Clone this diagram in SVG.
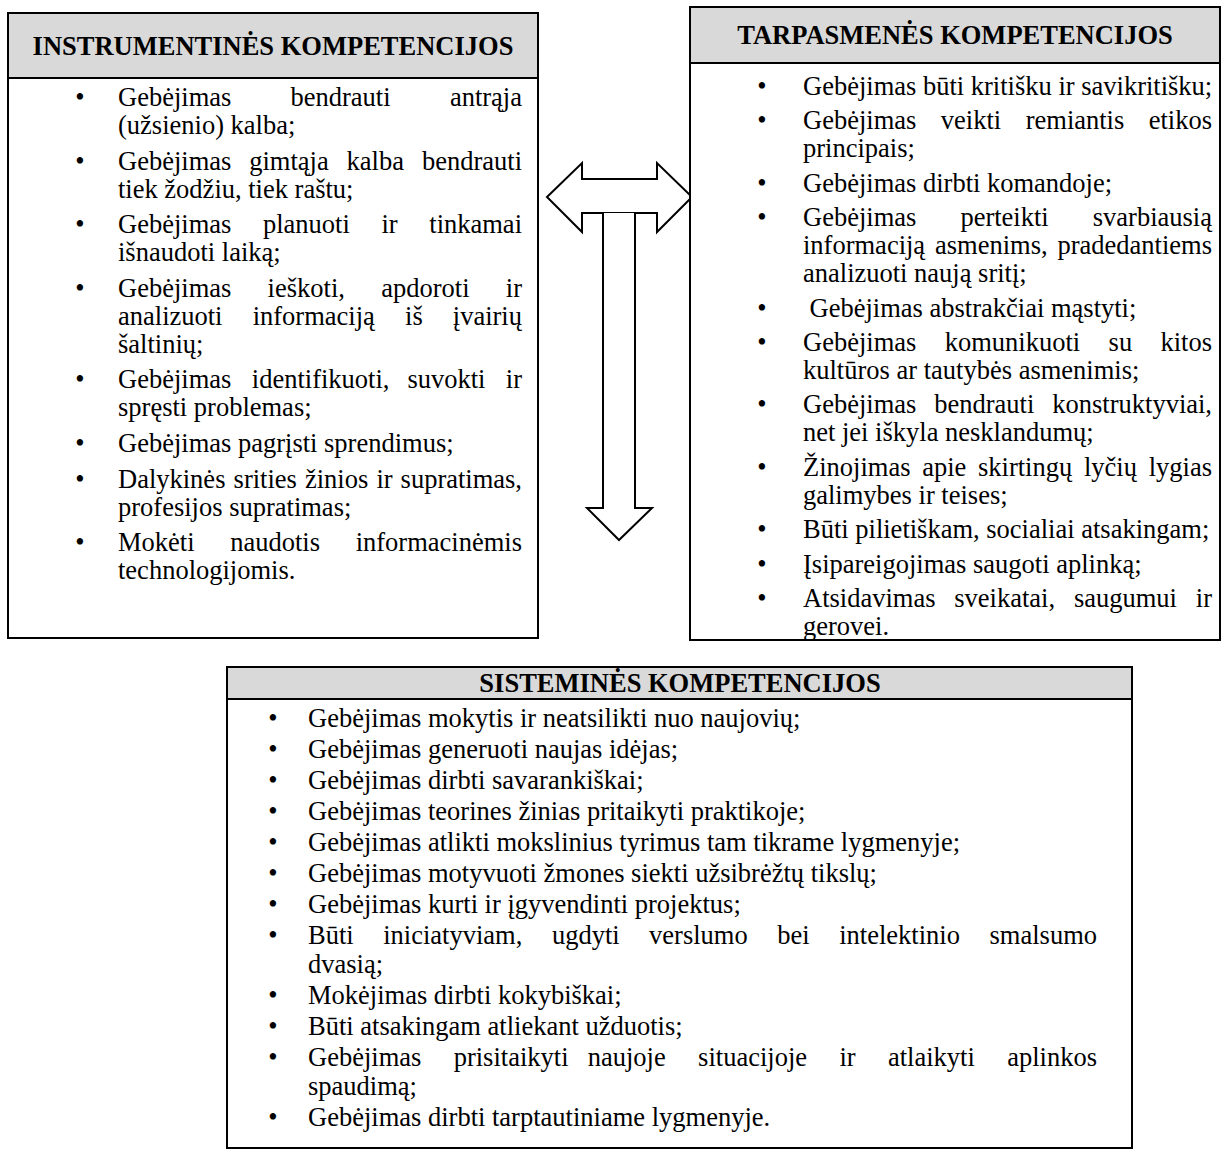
<svg xmlns="http://www.w3.org/2000/svg" width="1229" height="1160" viewBox="0 0 1229 1160">
<style>
.box{fill:#fff;stroke:#000;stroke-width:2}
.hdr{fill:#d9d9d9;stroke:#000;stroke-width:2}
.ht{font-family:"Liberation Serif","Times New Roman",serif;font-size:26.5px;font-weight:bold;text-anchor:middle;fill:#000}
.t{font-family:"Liberation Serif","Times New Roman",serif;font-size:26.5px;fill:#000}
.b{font-family:"Liberation Serif","Times New Roman",serif;font-size:26.5px;text-anchor:middle;fill:#000}
.e{text-anchor:end}
.arr{fill:#fff;stroke:#000;stroke-width:2;stroke-linejoin:miter}
</style>
<rect width="1229" height="1160" fill="#fff"/>

<g id="connectors">
<polygon class="arr" points="547,197 582,163 582,179 657,179 657,163 692,197 657,232 657,213 582,213 582,232"/>
<polyline class="arr" points="603,213 603,508 587,508 619,540 652,508 635,508 635,213"/>
</g>

<g id="instrumentines">
<rect class="box" x="8" y="13" width="530" height="625"/>
<rect class="hdr" x="8" y="13" width="530" height="65"/>
<text class="ht" x="273" y="55">INSTRUMENTINĖS KOMPETENCIJOS</text>
<g class="b">
<text x="80" y="106">•</text>
<text x="80" y="169.6">•</text>
<text x="80" y="233.2">•</text>
<text x="80" y="296.8">•</text>
<text x="80" y="388.4">•</text>
<text x="80" y="452">•</text>
<text x="80" y="487.6">•</text>
<text x="80" y="551.2">•</text>
</g>
<text class="t" y="106"><tspan x="118">Gebėjimas </tspan><tspan x="290.5">bendrauti </tspan><tspan class="e" x="522">antrąja</tspan></text>
<text class="t" x="118" y="134">(užsienio) kalba;</text>
<text class="t" y="169.6"><tspan x="118">Gebėjimas </tspan><tspan x="249.2">gimtąja </tspan><tspan x="346.6">kalba </tspan><tspan class="e" x="522">bendrauti</tspan></text>
<text class="t" x="118" y="197.6">tiek žodžiu, tiek raštu;</text>
<text class="t" y="233.2"><tspan x="118">Gebėjimas </tspan><tspan x="262.9">planuoti </tspan><tspan x="381.4">ir </tspan><tspan class="e" x="522">tinkamai</tspan></text>
<text class="t" x="118" y="261.2">išnaudoti laiką;</text>
<text class="t" y="296.8"><tspan x="118">Gebėjimas </tspan><tspan x="267.6">ieškoti, </tspan><tspan x="381.2">apdoroti </tspan><tspan class="e" x="522">ir</tspan></text>
<text class="t" y="324.8"><tspan x="118">analizuoti </tspan><tspan x="252.7">informaciją </tspan><tspan x="405.1">iš </tspan><tspan class="e" x="522">įvairių</tspan></text>
<text class="t" x="118" y="352.8">šaltinių;</text>
<text class="t" y="388.4"><tspan x="118">Gebėjimas </tspan><tspan x="251.8">identifikuoti, </tspan><tspan x="407.4">suvokti </tspan><tspan class="e" x="522">ir</tspan></text>
<text class="t" x="118" y="416.4">spręsti problemas;</text>
<text class="t" x="118" y="452">Gebėjimas pagrįsti sprendimus;</text>
<text class="t" y="487.6"><tspan x="118">Dalykinės </tspan><tspan x="233.6">srities </tspan><tspan x="305">žinios </tspan><tspan x="376.4">ir </tspan><tspan class="e" x="522">supratimas,</tspan></text>
<text class="t" x="118" y="515.6">profesijos supratimas;</text>
<text class="t" y="551.2"><tspan x="118">Mokėti </tspan><tspan x="230.2">naudotis </tspan><tspan class="e" x="522">informacinėmis</tspan></text>
<text class="t" x="118" y="579.2">technologijomis.</text>
</g>

<g id="tarpasmenes">
<rect class="box" x="690" y="7" width="530" height="633"/>
<rect class="hdr" x="690" y="7" width="530" height="56"/>
<text class="ht" x="955" y="44">TARPASMENĖS KOMPETENCIJOS</text>
<g class="b">
<text x="762" y="95">•</text>
<text x="762" y="129.4">•</text>
<text x="762" y="191.8">•</text>
<text x="762" y="226.2">•</text>
<text x="762" y="316.6">•</text>
<text x="762" y="351">•</text>
<text x="762" y="413.4">•</text>
<text x="762" y="475.8">•</text>
<text x="762" y="538.2">•</text>
<text x="762" y="572.6">•</text>
<text x="762" y="607">•</text>
</g>
<text class="t" x="803" y="95">Gebėjimas būti kritišku ir savikritišku;</text>
<text class="t" y="129.4"><tspan x="803">Gebėjimas </tspan><tspan x="940.8">veikti </tspan><tspan x="1025.7">remiantis </tspan><tspan class="e" x="1212">etikos</tspan></text>
<text class="t" x="803" y="157.4">principais;</text>
<text class="t" x="803" y="191.8">Gebėjimas dirbti komandoje;</text>
<text class="t" y="226.2"><tspan x="803">Gebėjimas </tspan><tspan x="960.4">perteikti </tspan><tspan class="e" x="1212">svarbiausią</tspan></text>
<text class="t" y="254.2"><tspan x="803">informaciją </tspan><tspan x="935">asmenims, </tspan><tspan class="e" x="1212">pradedantiems</tspan></text>
<text class="t" x="803" y="282.2">analizuoti naują sritį;</text>
<text class="t" x="809.6" y="316.6">Gebėjimas abstrakčiai mąstyti;</text>
<text class="t" y="351"><tspan x="803">Gebėjimas </tspan><tspan x="944.7">komunikuoti </tspan><tspan x="1108.6">su </tspan><tspan class="e" x="1212">kitos</tspan></text>
<text class="t" x="803" y="379">kultūros ar tautybės asmenimis;</text>
<text class="t" y="413.4"><tspan x="803">Gebėjimas </tspan><tspan x="934.2">bendrauti </tspan><tspan class="e" x="1212">konstruktyviai,</tspan></text>
<text class="t" x="803" y="441.4">net jei iškyla nesklandumų;</text>
<text class="t" y="475.8"><tspan x="803">Žinojimas </tspan><tspan x="922.2">apie </tspan><tspan x="978">skirtingų </tspan><tspan x="1083.9">lyčių </tspan><tspan class="e" x="1212">lygias</tspan></text>
<text class="t" x="803" y="503.8">galimybes ir teises;</text>
<text class="t" x="803" y="538.2">Būti pilietiškam, socialiai atsakingam;</text>
<text class="t" x="803" y="572.6">Įsipareigojimas saugoti aplinką;</text>
<text class="t" y="607"><tspan x="803">Atsidavimas </tspan><tspan x="954.3">sveikatai, </tspan><tspan x="1073.9">saugumui </tspan><tspan class="e" x="1212">ir</tspan></text>
<text class="t" x="803" y="635">gerovei.</text>
</g>

<g id="sistemines">
<rect class="box" x="227" y="667" width="905" height="481"/>
<rect class="hdr" x="227" y="667" width="905" height="32"/>
<text class="ht" x="680" y="692">SISTEMINĖS KOMPETENCIJOS</text>
<g class="b">
<text x="273" y="727">•</text>
<text x="273" y="758">•</text>
<text x="273" y="789">•</text>
<text x="273" y="820">•</text>
<text x="273" y="851">•</text>
<text x="273" y="882">•</text>
<text x="273" y="913">•</text>
<text x="273" y="944">•</text>
<text x="273" y="1004">•</text>
<text x="273" y="1035">•</text>
<text x="273" y="1066">•</text>
<text x="273" y="1126">•</text>
</g>
<text class="t" x="308" y="727">Gebėjimas mokytis ir neatsilikti nuo naujovių;</text>
<text class="t" x="308" y="758">Gebėjimas generuoti naujas idėjas;</text>
<text class="t" x="308" y="789">Gebėjimas dirbti savarankiškai;</text>
<text class="t" x="308" y="820">Gebėjimas teorines žinias pritaikyti praktikoje;</text>
<text class="t" x="308" y="851">Gebėjimas atlikti mokslinius tyrimus tam tikrame lygmenyje;</text>
<text class="t" x="308" y="882">Gebėjimas motyvuoti žmones siekti užsibrėžtų tikslų;</text>
<text class="t" x="308" y="913">Gebėjimas kurti ir įgyvendinti projektus;</text>
<text class="t" y="944"><tspan x="308">Būti </tspan><tspan x="383.2">iniciatyviam, </tspan><tspan x="551.9">ugdyti </tspan><tspan x="649.1">verslumo </tspan><tspan x="777.3">bei </tspan><tspan x="839.2">intelektinio </tspan><tspan class="e" x="1097">smalsumo</tspan></text>
<text class="t" x="308" y="973">dvasią;</text>
<text class="t" x="308" y="1004">Mokėjimas dirbti kokybiškai;</text>
<text class="t" x="308" y="1035">Būti atsakingam atliekant užduotis;</text>
<text class="t" y="1066"><tspan x="308">Gebėjimas </tspan><tspan x="453.7">prisitaikyti </tspan><tspan x="587.7">naujoje </tspan><tspan x="698.1">situacijoje </tspan><tspan x="839.4">ir </tspan><tspan x="888">atlaikyti </tspan><tspan class="e" x="1097">aplinkos</tspan></text>
<text class="t" x="308" y="1095">spaudimą;</text>
<text class="t" x="308" y="1126">Gebėjimas dirbti tarptautiniame lygmenyje.</text>
</g>
</svg>
